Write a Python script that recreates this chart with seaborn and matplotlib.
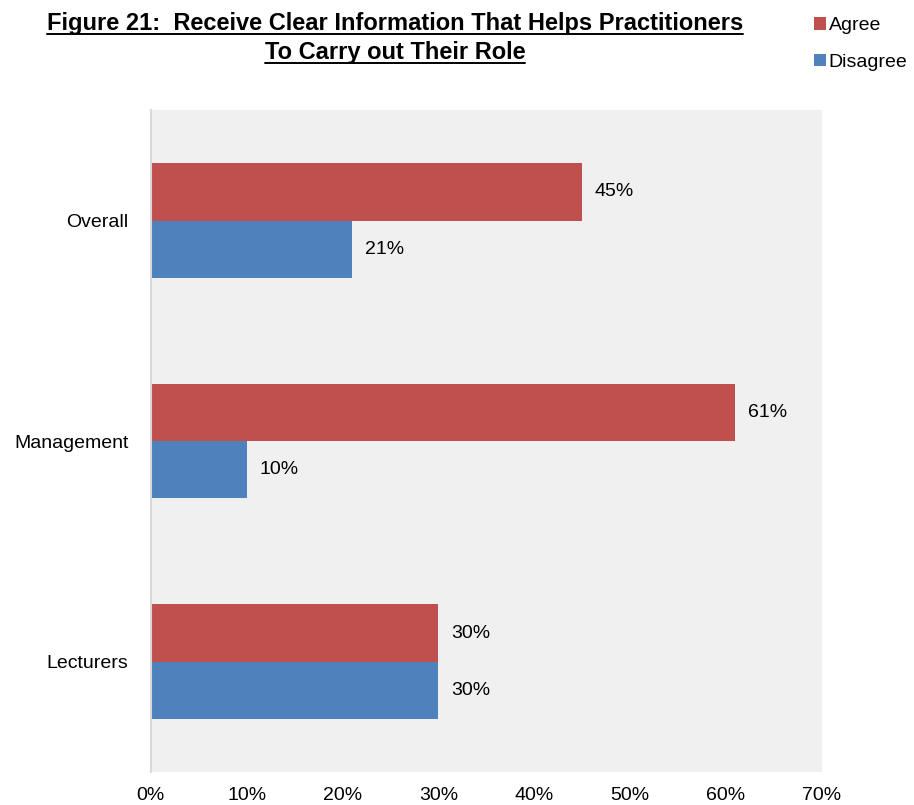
import pandas as pd
import matplotlib.pyplot as plt
import seaborn as sns
from matplotlib.lines import Line2D
from matplotlib.patches import Patch

categories = ['Overall', 'Management', 'Lecturers']
agree = [45, 61, 30]
disagree = [21, 10, 30]
series = ['Agree', 'Disagree']
colors = ['#C0504D', '#4F81BD']
ticks = [0, 10, 20, 30, 40, 50, 60, 70]

df = pd.DataFrame({
    'Group': categories * 2,
    'Response': ['Agree'] * 3 + ['Disagree'] * 3,
    'Value': agree + disagree,
})

sns.set_style('white')
plt.rcParams['font.family'] = ['Liberation Sans', 'DejaVu Sans']
plt.rcParams['text.color'] = 'black'
plt.rcParams['xtick.color'] = 'black'
plt.rcParams['ytick.color'] = 'black'

fig = plt.figure(figsize=(9.14, 8.05), dpi=100)
ax = fig.add_axes([0.165, 0.041, 0.734, 0.822])
ax.set_facecolor('#F0F0F0')

sns.barplot(data=df, x='Value', y='Group', hue='Response', order=categories,
            hue_order=series, palette=colors, width=0.52, linewidth=0,
            saturation=1, legend=False, ax=ax)

for cont in ax.containers:
    ax.bar_label(cont, labels=[f'{v:.0f}%' for v in cont.datavalues],
                 padding=9, fontsize=14, color='black')

ax.set_xlim(0, 70)
ax.set_ylim(2.5, -0.5)
ax.set_xticks(ticks)
ax.set_xticklabels([f'{t}%' for t in ticks], fontsize=14)
ax.tick_params(axis='y', labelsize=14, length=0, pad=16)
ax.tick_params(axis='x', length=0, pad=11)
ax.set_xlabel('')
ax.set_ylabel('')
for side in ['top', 'right', 'bottom']:
    ax.spines[side].set_visible(False)
ax.spines['left'].set_color('#D9D9D9')
ax.spines['left'].set_linewidth(1.5)

t1 = fig.text(0.432, 0.971, 'Figure 21:  Receive Clear Information That Helps Practitioners',
              ha='center', va='center', fontsize=17, fontweight='bold')
t2 = fig.text(0.432, 0.935, 'To Carry out Their Role',
              ha='center', va='center', fontsize=17, fontweight='bold')

handles = [Patch(facecolor=c, edgecolor='none') for c in colors]
fig.legend(handles, series, loc='upper left', bbox_to_anchor=(0.882, 0.988),
           frameon=False, fontsize=14, handlelength=0.6, handleheight=0.6,
           handletextpad=0.15, labelspacing=1.0, borderaxespad=0)

# underline the title lines
fig.canvas.draw()
r = fig.canvas.get_renderer()
for t in (t1, t2):
    bb = t.get_window_extent(renderer=r).transformed(fig.transFigure.inverted())
    y = bb.y0 + 0.001
    fig.add_artist(Line2D([bb.x0, bb.x1], [y, y], color='black', lw=1.4,
                          transform=fig.transFigure))

fig.savefig('out.png', dpi=100)
